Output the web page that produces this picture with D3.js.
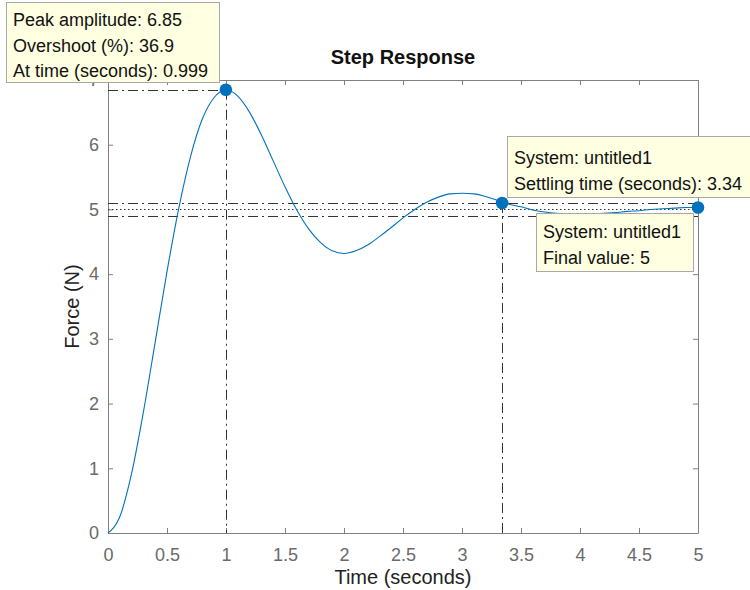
<!DOCTYPE html>
<html>
<head>
<meta charset="utf-8">
<script src="https://cdn.jsdelivr.net/npm/d3@7"></script>
<style>
  body { margin: 0; background: #fff; }
  svg { display: block; font-family: "Liberation Sans", Arial, Helvetica, sans-serif; }
</style>
</head>
<body>
<div id="chart"></div>
<script>
const width = 750;
const height = 590;

// step response samples
const time = [
  0, 0.1, 0.2, 0.3, 0.4, 0.5, 0.6, 0.7, 0.8, 0.9,
  1.0, 1.1, 1.2, 1.3, 1.4, 1.5, 1.6, 1.7, 1.8, 1.9,
  2.0, 2.1, 2.2, 2.3, 2.4, 2.5, 2.6, 2.7, 2.8, 2.9,
  3.0, 3.1, 3.2, 3.3, 3.4, 3.5, 3.6, 3.7, 3.8, 3.9,
  4.0, 4.1, 4.2, 4.3, 4.4, 4.5, 4.6, 4.7, 4.8, 4.9, 5.0
];
const force = [
  0, 0.25, 0.92, 1.87, 2.95, 4.04, 5.02, 5.82, 6.40, 6.73,
  6.85, 6.75, 6.50, 6.15, 5.75, 5.35, 4.99, 4.70, 4.49, 4.36,
  4.32, 4.36, 4.45, 4.58, 4.72, 4.87, 5.00, 5.11, 5.19, 5.24,
  5.25, 5.24, 5.20, 5.14, 5.08, 5.04, 4.99, 4.96, 4.94, 4.93,
  4.93, 4.93, 4.94, 4.95, 4.97, 4.98, 5.00, 5.01, 5.02, 5.03, 5.03
];

const xTicks = [0, 0.5, 1, 1.5, 2, 2.5, 3, 3.5, 4, 4.5, 5];
const xTickLabels = ["0", "0.5", "1", "1.5", "2", "2.5", "3", "3.5", "4", "4.5", "5"];
const yTicks = [0, 1, 2, 3, 4, 5, 6, 7];

const peakTime = 0.999;
const peakAmp = 6.85;
const settleTime = 3.34;
const settleVal = 5.1;
const bandLow = 4.9;
const bandHigh = 5.1;
const finalValue = 5;
const finalTime = 5;
const finalY = 5.03;

const peakTip = ["Peak amplitude: 6.85", "Overshoot (%): 36.9", "At time (seconds): 0.999"];
const settleTip = ["System: untitled1", "Settling time (seconds): 3.34"];
const finalTip = ["System: untitled1", "Final value: 5"];

const plotLeft = 108, plotRight = 698, plotTop = 80, plotBottom = 533;
const blue = "#0072BD";
const axisGrey = "#808080";
const refCol = "#333";
const dashDot = "10,4,2,4";

const x = d3.scaleLinear().domain([0, 5]).range([plotLeft, plotRight]);
const y = d3.scaleLinear().domain([0, 7]).range([plotBottom, plotTop]);
const px = (v) => Math.round(v) + 0.5;

const svg = d3
  .select("#chart")
  .append("svg")
  .attr("width", width)
  .attr("height", height);

// axes box with inside ticks
const xAxis = svg.append("g")
  .attr("transform", `translate(0,${plotBottom})`)
  .call(d3.axisBottom(x).tickValues(xTicks).tickFormat((d, i) => xTickLabels[i])
    .tickSizeInner(-5).tickSizeOuter(0).tickPadding(15));
const yAxis = svg.append("g")
  .attr("transform", `translate(${plotLeft},0)`)
  .call(d3.axisLeft(y).tickValues(yTicks).tickFormat(d3.format("d"))
    .tickSizeInner(-5).tickSizeOuter(0).tickPadding(9));
const topAxis = svg.append("g")
  .attr("transform", `translate(0,${plotTop})`)
  .call(d3.axisTop(x).tickValues(xTicks).tickFormat("").tickSizeInner(-5).tickSizeOuter(0));
const rightAxis = svg.append("g")
  .attr("transform", `translate(${plotRight},0)`)
  .call(d3.axisRight(y).tickValues(yTicks).tickFormat("").tickSizeInner(-5).tickSizeOuter(0));

[xAxis, yAxis, topAxis, rightAxis].forEach((g) => {
  g.select(".domain").attr("stroke", axisGrey);
  g.selectAll(".tick line").attr("stroke", axisGrey);
  g.selectAll(".tick text")
    .attr("fill", "#6a6a6a")
    .style("font-size", "18px")
    .style("font-family", "Liberation Sans, Arial, sans-serif");
});

// reference lines
const refs = svg.append("g")
  .attr("fill", "none")
  .attr("stroke", refCol)
  .attr("stroke-width", 1);

refs.append("line")
  .attr("x1", x(0)).attr("x2", x(peakTime))
  .attr("y1", px(y(peakAmp))).attr("y2", px(y(peakAmp)))
  .attr("stroke-dasharray", dashDot);
refs.append("line")
  .attr("x1", px(x(peakTime))).attr("x2", px(x(peakTime)))
  .attr("y1", y(peakAmp)).attr("y2", y(0))
  .attr("stroke-dasharray", dashDot);

[bandHigh, bandLow].forEach((v) => {
  refs.append("line")
    .attr("x1", x(0)).attr("x2", x(5))
    .attr("y1", px(y(v))).attr("y2", px(y(v)))
    .attr("stroke-dasharray", dashDot);
});
refs.append("line")
  .attr("x1", x(0)).attr("x2", x(5))
  .attr("y1", px(y(finalValue))).attr("y2", px(y(finalValue)))
  .attr("stroke-dasharray", "1.5,2.5");
refs.append("line")
  .attr("x1", px(x(settleTime))).attr("x2", px(x(settleTime)))
  .attr("y1", y(settleVal)).attr("y2", y(0))
  .attr("stroke-dasharray", dashDot);

// response curve
const line = d3.line()
  .x((d, i) => x(time[i]))
  .y((d) => y(d))
  .curve(d3.curveMonotoneX);

svg.append("path")
  .datum(force)
  .attr("d", line)
  .attr("fill", "none")
  .attr("stroke", blue)
  .attr("stroke-width", 1.1);

// characteristic markers
const markers = [
  { t: peakTime, v: peakAmp },
  { t: settleTime, v: settleVal },
  { t: finalTime, v: finalY }
];
svg.selectAll(".marker")
  .data(markers)
  .join("circle")
  .classed("marker", true)
  .attr("cx", (d) => x(d.t))
  .attr("cy", (d) => y(d.v))
  .attr("r", 6.3)
  .attr("fill", blue);

// titles
svg.append("text")
  .attr("x", (plotLeft + plotRight) / 2)
  .attr("y", 64)
  .attr("text-anchor", "middle")
  .style("font-size", "20px")
  .style("font-weight", "bold")
  .attr("fill", "#111")
  .text("Step Response");

svg.append("text")
  .attr("x", (plotLeft + plotRight) / 2)
  .attr("y", 584)
  .attr("text-anchor", "middle")
  .style("font-size", "20px")
  .attr("fill", "#222")
  .text("Time (seconds)");

svg.append("text")
  .attr("transform", `translate(79,${(plotTop + plotBottom) / 2}) rotate(-90)`)
  .attr("text-anchor", "middle")
  .style("font-size", "20px")
  .attr("fill", "#222")
  .text("Force (N)");

// data tips
function dataTip(lines, bx, by, bw, bh, tx, ty) {
  const g = svg.append("g");
  g.append("rect")
    .attr("x", bx + 0.5).attr("y", by + 0.5)
    .attr("width", bw).attr("height", bh)
    .attr("fill", "#ffffe1")
    .attr("stroke", "#a8a8a8");
  g.selectAll("text")
    .data(lines)
    .join("text")
    .attr("x", tx)
    .attr("y", (d, i) => ty + i * 25.5)
    .style("font-size", "18px")
    .attr("fill", "#111")
    .text((d) => d);
}

dataTip(peakTip, 6, 2, 213, 80, 13, 26);
dataTip(settleTip, 507, 136, 250, 61, 514, 164);
dataTip(finalTip, 536, 213, 157, 58, 543, 238);
</script>
</body>
</html>
